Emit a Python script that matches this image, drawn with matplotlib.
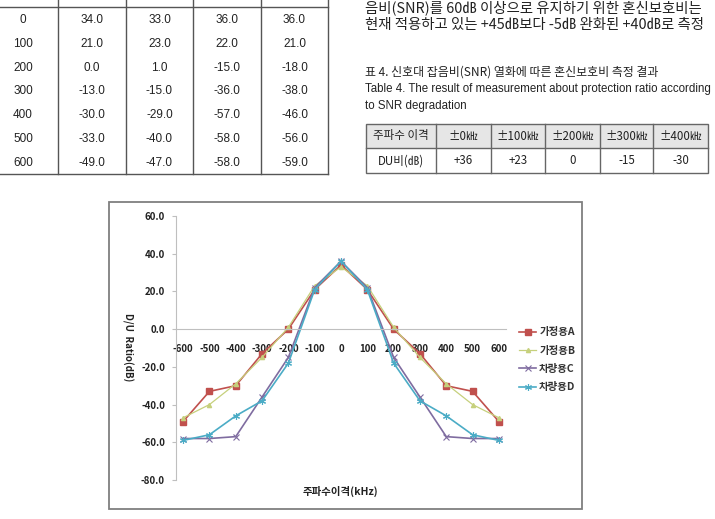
import matplotlib.pyplot as plt
from matplotlib.patches import Rectangle

plt.rcParams['font.family'] = ['Noto Sans CJK KR', 'DejaVu Sans']

# top-left table (offset in kHz, measured D/U per receiver)
tbl_headers = ['가정용A', '가정용B', '차량용C', '차량용D']
tbl_offsets = ['0', '100', '200', '300', '400', '500', '600']
tbl_a = ['34.0', '21.0', '0.0', '-13.0', '-30.0', '-33.0', '-49.0']
tbl_b = ['33.0', '23.0', '1.0', '-15.0', '-29.0', '-40.0', '-47.0']
tbl_c = ['36.0', '22.0', '-15.0', '-36.0', '-57.0', '-58.0', '-58.0']
tbl_d = ['36.0', '21.0', '-18.0', '-38.0', '-46.0', '-56.0', '-59.0']

# body text and table 4
body_lines = ['음비(SNR)를 60㏈ 이상으로 유지하기 위한 혼신보호비는',
              '현재 적용하고 있는 +45㏈보다 -5㏈ 완화된 +40㏈로 측정']
caption_lines = ['표 4. 신호대 잡음비(SNR) 열화에 따른 혼신보호비 측정 결과',
                 'Table 4. The result of measurement about protection ratio according',
                 'to SNR degradation']
t4_head = ['주파수 이격', '±0㎑', '±100㎑', '±200㎑', '±300㎑', '±400㎑']
t4_row = ['DU비(㏈)', '+36', '+23', '0', '-15', '-30']

# chart data
freq = [-600, -500, -400, -300, -200, -100, 0, 100, 200, 300, 400, 500, 600]
series = {
    '가정용A': [-49, -33, -30, -13, 0, 21, 34, 21, 0, -13, -30, -33, -49],
    '가정용B': [-47, -40, -29, -15, 1, 23, 33, 23, 1, -15, -29, -40, -47],
    '차량용C': [-58, -58, -57, -36, -15, 22, 36, 22, -15, -36, -57, -58, -58],
    '차량용D': [-59, -56, -46, -38, -18, 21, 36, 21, -18, -38, -46, -56, -59],
}
styles = {
    '가정용A': dict(color='#C0504D', marker='s', ms=5, lw=1.2),
    '가정용B': dict(color='#C6D07C', marker='^', ms=3, lw=0.9),
    '차량용C': dict(color='#7F6CA0', marker='x', ms=4, lw=1.2, mew=0.8),
    '차량용D': dict(color='#4BACC6', marker=(6, 2, 0), ms=5, lw=1.2, mew=0.8),
}

fig = plt.figure(figsize=(7.15, 5.19), dpi=100)
bg = fig.add_axes([0, 0, 1, 1])
bg.set_xlim(0, 715)
bg.set_ylim(519, 0)
bg.axis('off')

# ---- top-left table (header row is cut by the page edge)
lc = '#555555'
col_x = [58, 126, 193, 261, 328]
for x in col_x:
    bg.plot([x, x], [0, 174], color=lc, lw=1.0)
bg.plot([0, 328], [7, 7], color=lc, lw=1.0)
bg.plot([0, 328], [174, 174], color=lc, lw=1.0)
centers = [92, 159.5, 227, 294.5]
for cx, h in zip(centers, tbl_headers):
    bg.text(cx, -5, h, ha='center', va='center', fontsize=9, color='#333333')
for i, off in enumerate(tbl_offsets):
    y = 20 + i * 23.8
    bg.text(23, y, off, ha='center', va='center', fontsize=8.5,
            family='Liberation Sans', color='#222222')
    for cx, col in zip(centers, [tbl_a, tbl_b, tbl_c, tbl_d]):
        bg.text(cx, y, col[i], ha='center', va='center', fontsize=8.5,
                family='Liberation Sans', color='#222222')

# ---- body text + caption
for i, line in enumerate(body_lines):
    bg.text(365, 8 + i * 17, line, ha='left', va='center', fontsize=10.4, color='#222222')
bg.text(365, 72, caption_lines[0], ha='left', va='center', fontsize=8.6, color='#222222')
bg.text(365, 89, caption_lines[1], ha='left', va='center', fontsize=8.3,
        family='Liberation Sans', color='#222222')
bg.text(365, 106, caption_lines[2], ha='left', va='center', fontsize=8.3,
        family='Liberation Sans', color='#222222')

# ---- table 4
t4_x = [366, 436, 491, 545, 600, 653, 708]
bg.add_patch(Rectangle((366, 124), 342, 24, facecolor='#E6E6E6', edgecolor='none'))
bg.add_patch(Rectangle((366, 124), 342, 49, facecolor='none', edgecolor='#666666', lw=1.0))
bg.plot([366, 708], [148, 148], color='#666666', lw=1.0)
for x in t4_x[1:-1]:
    bg.plot([x, x], [124, 173], color='#666666', lw=1.0)
for j in range(6):
    cx = (t4_x[j] + t4_x[j + 1]) / 2
    bg.text(cx, 136, t4_head[j], ha='center', va='center', fontsize=8.3, color='#222222')
    bg.text(cx, 161, t4_row[j], ha='center', va='center', fontsize=8.3, color='#222222')

# ---- chart frame
bg.add_patch(Rectangle((109, 202), 473, 307, facecolor='white', edgecolor='#7F7F7F', lw=1.3))

ax = fig.add_axes([176 / 715, 1 - 480 / 519, 330 / 715, 264 / 519])
ax.patch.set_alpha(0)
for name, vals in series.items():
    st = styles[name]
    ax.plot(freq, vals, color=st['color'], lw=st['lw'], marker=st['marker'],
            ms=st['ms'], mew=st.get('mew', 1), label=name)

ax.set_xlim(-627, 627)
ax.set_ylim(-80, 60)
ax.set_yticks(range(-80, 61, 20))
ax.set_yticklabels([f'{v:.1f}' for v in range(-80, 61, 20)])
ax.set_xticks(freq)
ax.set_xticklabels([str(f) for f in freq])
for s in ['top', 'right']:
    ax.spines[s].set_visible(False)
ax.spines['bottom'].set_position(('data', 0))
ax.spines['bottom'].set_color('#BFBFBF')
ax.spines['left'].set_color('#BFBFBF')
ax.tick_params(axis='x', length=0, pad=11, labelsize=7, labelcolor='#222222')
ax.tick_params(axis='y', length=3, color='#BFBFBF', pad=5, labelsize=7, labelcolor='#222222')
for lab in ax.get_xticklabels() + ax.get_yticklabels():
    lab.set_fontweight('bold')

bg.text(128, 347, 'D/U  Ratio(dB)', rotation=270, ha='center', va='center',
        fontsize=7, fontweight='bold', color='#222222')
bg.text(340, 491, '주파수이격(kHz)', ha='center', va='center',
        fontsize=7.5, fontweight='bold', color='#222222')

leg = ax.legend(loc='upper left', bbox_to_anchor=(510 / 715, 1 - 318 / 519),
                bbox_transform=fig.transFigure, frameon=False, handlelength=1.6,
                handletextpad=0.3, labelspacing=0.8,
                prop={'weight': 'bold', 'size': 7.5})
for t in leg.get_texts():
    t.set_color('#333333')

fig.savefig('out.png', dpi=100)
